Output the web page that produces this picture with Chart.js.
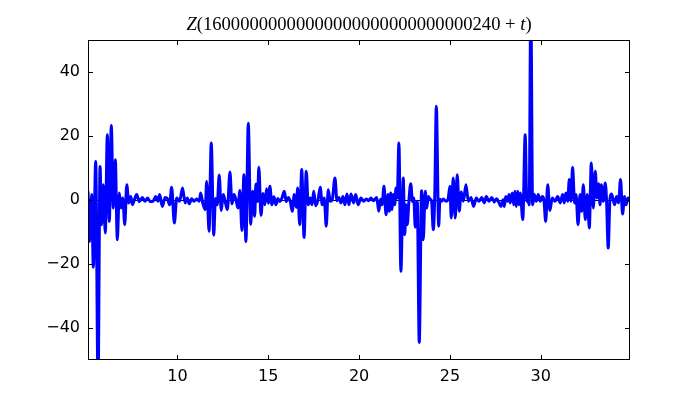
<!DOCTYPE html>
<html>
<head>
<meta charset="utf-8">
<script src="https://cdn.jsdelivr.net/npm/chart.js@4.4.1/dist/chart.umd.min.js"></script>
<style>
  body { margin: 0; background: #fff; }
  canvas { display: block; }
</style>
</head>
<body>
<canvas id="zChart" width="700" height="400"></canvas>
<script>
// t offsets and Z values at each visible turn of the curve
const tValues = [
  5.08, 5.17, 5.28, 5.37, 5.50, 5.63, 5.74, 5.83, 5.92, 6.03,
  6.14, 6.25, 6.36, 6.47, 6.58, 6.69, 6.80, 6.89, 6.99, 7.10,
  7.21, 7.32, 7.43, 7.52, 7.63, 7.76, 7.90, 8.07, 8.21, 8.36,
  8.51, 8.67, 8.80, 8.93, 9.02, 9.17, 9.32, 9.46, 9.57, 9.68,
  9.83, 9.96, 10.12, 10.28, 10.42, 10.54, 10.65, 10.78, 10.91, 11.06,
  11.20, 11.28, 11.39, 11.53, 11.61, 11.74, 11.86, 12.00, 12.09, 12.19,
  12.30, 12.41, 12.52, 12.63, 12.75, 12.89, 13.00, 13.11, 13.22, 13.33,
  13.44, 13.55, 13.66, 13.77, 13.90, 14.03, 14.14, 14.25, 14.32, 14.41,
  14.48, 14.60, 14.71, 14.81, 14.91, 15.00, 15.09, 15.20, 15.31, 15.42,
  15.53, 15.64, 15.75, 15.88, 15.99, 16.10, 16.21, 16.32, 16.43, 16.54,
  16.62, 16.73, 16.84, 16.97, 17.09, 17.20, 17.31, 17.41, 17.50, 17.61,
  17.74, 17.86, 17.97, 18.08, 18.19, 18.30, 18.41, 18.52, 18.67, 18.78,
  18.89, 19.00, 19.11, 19.22, 19.33, 19.44, 19.55, 19.70, 19.81, 19.95,
  20.10, 20.25, 20.39, 20.53, 20.65, 20.79, 20.97, 21.08, 21.18, 21.26,
  21.37, 21.48, 21.59, 21.66, 21.74, 21.81, 21.88, 21.96, 22.03, 22.10,
  22.19, 22.30, 22.43, 22.51, 22.58, 22.65, 22.74, 22.84, 22.94, 23.01,
  23.09, 23.20, 23.31, 23.44, 23.53, 23.64, 23.72, 23.81, 23.90, 23.99,
  24.08, 24.16, 24.25, 24.38, 24.45, 24.54, 24.63, 24.78, 24.89, 25.00,
  25.07, 25.18, 25.29, 25.40, 25.51, 25.62, 25.74, 25.88, 26.01, 26.16,
  26.30, 26.45, 26.60, 26.75, 26.89, 27.00, 27.15, 27.30, 27.44, 27.57,
  27.70, 27.81, 27.92, 27.99, 28.07, 28.18, 28.25, 28.32, 28.43, 28.51,
  28.58, 28.65, 28.73, 28.80, 28.87, 29.01, 29.14, 29.23, 29.29, 29.36,
  29.45, 29.55, 29.64, 29.75, 29.86, 29.97, 30.08, 30.17, 30.27, 30.38,
  30.50, 30.63, 30.78, 30.93, 31.07, 31.20, 31.29, 31.38, 31.48, 31.57,
  31.66, 31.75, 31.86, 31.94, 32.05, 32.16, 32.25, 32.34, 32.45, 32.56,
  32.67, 32.78, 32.89, 33.00, 33.09, 33.18, 33.26, 33.33, 33.44, 33.55,
  33.62, 33.71, 33.81, 33.90, 34.06, 34.17, 34.28, 34.39, 34.50, 34.61,
  34.69, 34.80, 34.91
];

const zValues = [
  2.7, -13, 1.7, -21, 12, -58, 10.5, -7.7, 4.8, -10.3,
  20.4, -6.7, 23.3, -2.5, 12.6, -12.4, 2.2, -2.5, 0.6, -7.7,
  4.8, -0.9, 1.1, -1.5, 0.1, 1.7, -0.5, 0.8, -0.4, 0.6,
  -0.5, -0.3, 1.1, -0.4, 1.7, -2.0, 0.8, 0.3, -1.5, 4.0,
  -7.2, 0.6, -0.4, 3.75, -0.9, 0.6, -1.2, 0.4, -0.4, 0.3,
  -0.4, 2.2, -0.9, -3.0, 5.8, -9.8, 17.8, -11, 0.5, -1.5,
  7.8, -3.3, 1.7, -0.5, -3, 8.75, -1.2, 1.7, 0.2, -2.5,
  3.0, -9.5, 7.9, -13, 24, -7.6, 2.7, -5.1, 5, -0.5,
  10.2, -4.8, 2, -1.5, 3.5, -1, 4.3, -1.5, 1, -1.5,
  0.5, -0.5, 0.6, 2.7, -0.5, 0.8, -0.4, -3.5, 1.7, -2.3,
  3.75, -7.7, 9.5, -11.7, 9, -1.5, 0.6, -1.5, 2.7, -1.8,
  0.1, 4, -1.5, 0.6, -8.2, 3.2, -0.4, 0.1, 6.9, -0.2,
  0.8, -0.9, 1.1, -1.5, 1.9, -1.5, 1.9, -0.9, 1.7, -1.5,
  0.6, -0.4, 0.3, -0.2, 0.6, -0.2, 0.8, -3.5, 0.2, -1.5,
  4.3, -4.6, 1.7, -3.5, 2.2, -3.0, 1.7, -1.5, 3.75, 0.6,
  17.8, -22.3, 6.9, -10.8, -1.5, -7.7, -0.4, 5.1, -0.5, 0.6,
  -8.5, -0.4, -44.5, 2.9, -12.4, 2.7, -2.5, 1.1, 0.3, -0.4,
  -9.3, 0.6, 29.3, -8.2, 0.2, -0.4, 0.3, -0.4, 0.1, 4.3,
  -5.6, 6.9, -5.6, 7.9, -3.5, 2.5, -0.4, 4.8, -0.4, 0.8,
  -2, 0.6, -0.4, 0.8, -0.9, 1.1, -0.4, 0.8, -0.6, 0.4,
  -0.9, -2, 0.1, -2, 1.1, -0.4, 1.7, -0.9, 2.2, -1.5,
  2.7, -2, 2.7, -1.5, 2.2, -6.1, 20.4, -0.4, 0.6, -1.5,
  62, -1.5, 1.7, -0.4, 1.7, -0.4, 1.1, 0.1, -6.7, 4.8,
  -3.3, 0.6, -0.4, 1.1, -0.9, 1.7, -0.9, 2.2, -0.4, 6.4,
  -0.4, 10.2, -0.9, 1.7, -7.7, 1.7, -3.5, 4.8, -6.1, 1.7,
  -8.75, 11.6, -2.5, 9, 0.6, 5.1, -1.5, 4.8, -0.4, 5.3,
  -0.4, -15, 0.6, 1.9, -1.5, 1.1, -0.9, 6.4, -4.4, 1.1,
  -1.5, 0.6, -0.4
];

const xTicks = [10, 15, 20, 25, 30];
const yTicks = [-40, -20, 0, 20, 40];
const titleNumber = "16000000000000000000000000000240";

const points = tValues.map((t, i) => ({ x: t, y: zValues[i] }));

function fmtTick(v) {
  return v < 0 ? "\u2212" + Math.abs(v) : String(v);
}

// black zero line under the curve
const zeroLine = {
  id: "zeroLine",
  beforeDatasetsDraw(chart) {
    const { ctx, chartArea: a, scales } = chart;
    const y = Math.round(scales.y.getPixelForValue(0)) + 0.5;
    ctx.save();
    ctx.strokeStyle = "#000";
    ctx.lineWidth = 1;
    ctx.beginPath();
    ctx.moveTo(a.left, y);
    ctx.lineTo(a.right, y);
    ctx.stroke();
    ctx.restore();
  }
};

// frame + inward tick marks + math style title
const frameAndTitle = {
  id: "frameAndTitle",
  afterDraw(chart) {
    const { ctx, chartArea: a, scales } = chart;
    ctx.save();
    ctx.strokeStyle = "#000";
    ctx.lineWidth = 1;
    ctx.strokeRect(Math.round(a.left) + 0.5, Math.round(a.top) + 0.5,
      Math.round(a.right - a.left) - 1, Math.round(a.bottom - a.top) - 1);

    ctx.beginPath();
    xTicks.forEach(v => {
      const x = Math.round(scales.x.getPixelForValue(v)) + 0.5;
      ctx.moveTo(x, a.bottom); ctx.lineTo(x, a.bottom - 5);
      ctx.moveTo(x, a.top); ctx.lineTo(x, a.top + 5);
    });
    yTicks.forEach(v => {
      const y = Math.round(scales.y.getPixelForValue(v)) + 0.5;
      ctx.moveTo(a.left, y); ctx.lineTo(a.left + 5, y);
      ctx.moveTo(a.right, y); ctx.lineTo(a.right - 5, y);
    });
    ctx.stroke();

    const size = 18.6;
    const parts = [
      { text: "Z", italic: true },
      { text: "(" + titleNumber, italic: false },
      { text: " + ", italic: false },
      { text: "t", italic: true },
      { text: ")", italic: false }
    ];
    const fontOf = p => (p.italic ? "italic " : "") + size + "px 'Liberation Serif', serif";
    let total = 0;
    parts.forEach(p => { ctx.font = fontOf(p); p.w = ctx.measureText(p.text).width; total += p.w; });
    let x = (a.left + a.right) / 2 - total / 2;
    ctx.fillStyle = "#000";
    ctx.textBaseline = "alphabetic";
    ctx.textAlign = "left";
    parts.forEach(p => {
      ctx.font = fontOf(p);
      ctx.fillText(p.text, x, 30);
      x += p.w;
    });
    ctx.restore();
  }
};

new Chart(document.getElementById("zChart").getContext("2d"), {
  type: "line",
  data: {
    datasets: [{
      data: points,
      borderColor: "#0000ff",
      borderWidth: 3,
      pointRadius: 0,
      fill: false,
      cubicInterpolationMode: "monotone",
      clip: 0
    }]
  },
  options: {
    responsive: false,
    animation: false,
    layout: { padding: { left: 0, right: 70, top: 40, bottom: 0 } },
    plugins: {
      legend: { display: false },
      title: { display: false },
      tooltip: { enabled: false }
    },
    scales: {
      x: {
        type: "linear",
        min: 5.077,
        max: 34.91,
        afterBuildTicks: s => { s.ticks = xTicks.map(v => ({ value: v })); },
        afterFit: s => { s.height = 40; },
        grid: { display: false, drawTicks: false },
        border: { display: false },
        ticks: {
          color: "#000",
          padding: 7,
          maxRotation: 0,
          font: { family: "'DejaVu Sans'", size: 16 },
          callback: v => fmtTick(v)
        }
      },
      y: {
        min: -50,
        max: 50,
        afterBuildTicks: s => { s.ticks = yTicks.map(v => ({ value: v })); },
        afterFit: s => { s.width = 88; },
        grid: { display: false, drawTicks: false },
        border: { display: false },
        ticks: {
          color: "#000",
          padding: 8,
          font: { family: "'DejaVu Sans'", size: 16 },
          callback: v => fmtTick(v)
        }
      }
    }
  },
  plugins: [zeroLine, frameAndTitle]
});
</script>
</body>
</html>
